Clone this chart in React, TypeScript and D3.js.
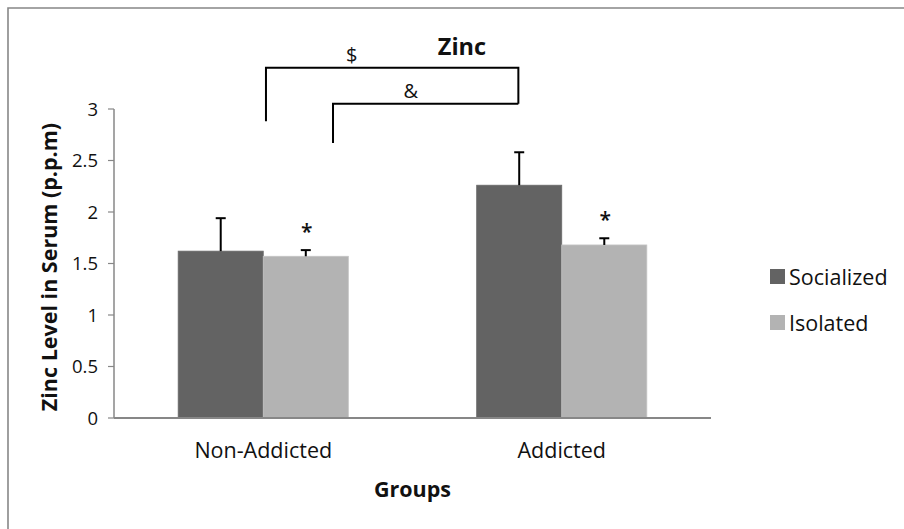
import * as d3 from 'd3'

const categories = ['Non-Addicted', 'Addicted']
const seriesNames = ['Socialized', 'Isolated']
const socialized = [1.62, 2.26]
const socializedErr = [0.32, 0.32]
const isolated = [1.57, 1.68]
const isolatedErr = [0.06, 0.065]
const isolatedStars = ['*', '*']
const yTicks = [0, 0.5, 1, 1.5, 2, 2.5, 3]

// significance brackets: ends as [group, fraction of group band], heights in data units
const brackets = [
  { label: '$', from: [0, 0.516], to: [1, 0.245], top: 3.4, leftEnd: 2.88, rightEnd: 3.05, labelAt: 0.34 },
  { label: '&', from: [0, 0.91], to: [1, 0.245], top: 3.05, leftEnd: 2.67, rightEnd: 3.05, labelAt: 0.42 },
]

const COLORS = ['#636363', '#b3b3b3']
const FONT = '"Open Sans", Lato, sans-serif'

export default function App() {
  const width = 904
  const height = 529
  const plot = { left: 114, right: 711, top: 109, bottom: 418 }

  const x0 = d3
    .scaleBand<string>()
    .domain(categories)
    .range([plot.left, plot.right])
    .paddingInner(0.43)
    .paddingOuter(0.215)
  const x1 = d3
    .scaleBand<string>()
    .domain(seriesNames)
    .range([0, x0.bandwidth()])
  const y = d3.scaleLinear().domain([0, 3]).range([plot.bottom, plot.top])

  const series = [
    { name: seriesNames[0], values: socialized, errs: socializedErr, stars: null as string[] | null },
    { name: seriesNames[1], values: isolated, errs: isolatedErr, stars: isolatedStars },
  ]

  const bx = (p: number[]) => (x0(categories[p[0]]) ?? 0) + p[1] * x0.bandwidth()

  return (
    <svg
      width={width}
      height={height}
      style={{ display: 'block', position: 'absolute', left: 0, top: 0, fontFamily: FONT }}
    >
      <rect x={0} y={0} width={width} height={height} fill="#fff" />
      <path d={`M8,${height} V8 H${width}`} fill="none" stroke="#878787" strokeWidth={1.6} />

      {/* y axis */}
      <line x1={plot.left} x2={plot.left} y1={y(3)} y2={y(0)} stroke="#878787" strokeWidth={1.5} />
      {yTicks.map(t => (
        <g key={t}>
          <line x1={plot.left - 6} x2={plot.left} y1={y(t)} y2={y(t)} stroke="#878787" strokeWidth={1.2} />
          <text x={plot.left - 16} y={y(t) + 6.5} textAnchor="end" fontSize={18.5} fill="#111">
            {t}
          </text>
        </g>
      ))}

      {/* bars */}
      {series.map((s, si) =>
        categories.map((c, ci) => {
          const bxStart = (x0(c) ?? 0) + (x1(s.name) ?? 0)
          const bw = x1.bandwidth()
          const cx = bxStart + bw / 2
          const top = y(s.values[ci])
          const errTop = y(s.values[ci] + s.errs[ci])
          return (
            <g key={`${s.name}-${c}`}>
              <rect
                x={bxStart}
                y={top}
                width={bw}
                height={y(0) - top}
                fill={COLORS[si]}
                stroke={si === 1 ? '#c4c4c4' : '#6a6a6a'}
                strokeWidth={0.8}
              />
              <line x1={cx} x2={cx} y1={top} y2={errTop} stroke="#000" strokeWidth={2} />
              <line x1={cx - 5} x2={cx + 5} y1={errTop} y2={errTop} stroke="#000" strokeWidth={2} />
              {s.stars && (
                <text x={cx + 1} y={errTop - 11} textAnchor="middle" fontSize={21} fontWeight="600" fill="#111">
                  {s.stars[ci]}
                </text>
              )}
            </g>
          )
        }),
      )}

      {/* x axis */}
      <line x1={plot.left} x2={plot.right} y1={y(0)} y2={y(0)} stroke="#878787" strokeWidth={1.8} />
      {categories.map(c => (
        <text
          key={c}
          x={(x0(c) ?? 0) + x0.bandwidth() / 2}
          y={458}
          textAnchor="middle"
          fontSize={21.5}
          fill="#111"
        >
          {c}
        </text>
      ))}

      {/* brackets */}
      {brackets.map(b => {
        const xl = bx(b.from)
        const xr = bx(b.to)
        return (
          <g key={b.label}>
            <path
              d={`M${xl},${y(b.leftEnd)} V${y(b.top)} H${xr} V${y(b.rightEnd)}`}
              fill="none"
              stroke="#000"
              strokeWidth={2}
            />
            <text x={xl + (xr - xl) * b.labelAt} y={y(b.top) - 6} textAnchor="middle" fontSize={20} fill="#111">
              {b.label}
            </text>
          </g>
        )
      })}

      {/* titles */}
      <text x={462} y={55} textAnchor="middle" fontSize={23.5} fontWeight="bold" fill="#111">
        Zinc
      </text>
      <text
        transform={`translate(${57},${267}) rotate(-90)`}
        textAnchor="middle"
        fontSize={21.5}
        fontWeight="bold"
        fill="#111"
      >
        Zinc Level in Serum (p.p.m)
      </text>
      <text x={(plot.left + plot.right) / 2} y={497} textAnchor="middle" fontSize={21.5} fontWeight="bold" fill="#111">
        Groups
      </text>

      {/* legend */}
      {seriesNames.map((n, i) => (
        <g key={n} transform={`translate(770,${269 + i * 46})`}>
          <rect x={0} y={0} width={15} height={15} fill={COLORS[i]} />
          <text x={19} y={15.5} fontSize={21.5} fill="#111">
            {n}
          </text>
        </g>
      ))}
    </svg>
  )
}
